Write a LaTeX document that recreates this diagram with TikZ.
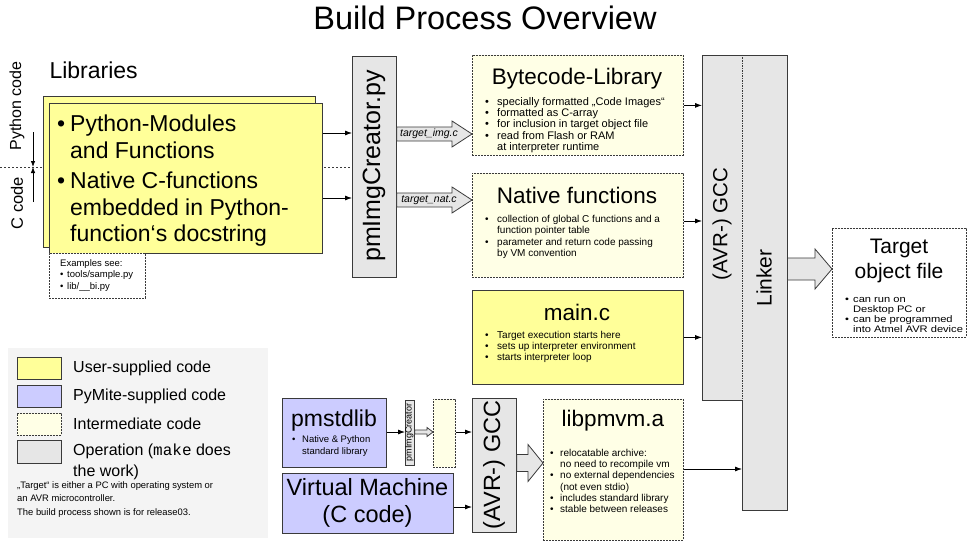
\documentclass[tikz,border=0pt]{standalone}
\usepackage{fontspec}
\setmainfont{Liberation Sans}
\setmonofont{Liberation Mono}
\newfontfamily\widesans[FakeStretch=1.17]{Liberation Sans}
\usetikzlibrary{arrows.meta,calc}
\definecolor{uyellow}{HTML}{FFFF99}
\definecolor{pblue}{HTML}{CCCCFF}
\definecolor{iyellow}{HTML}{FFFFE6}
\definecolor{opgray}{HTML}{E6E6E6}
\definecolor{legbg}{HTML}{F4F4F4}
\definecolor{edge}{HTML}{3A3A3A}
\newcommand\fs[2]{\fontsize{#1}{#2}\selectfont}
\newcommand\bu[1][12pt]{\makebox[#1][l]{•}}
\newcommand\ind[1][12pt]{\hspace*{#1}}
\newcommand\bx[6]{\node[#1, minimum width={(#5-#3)*1pt}, minimum height={(#6-#4)*1pt}] (#2) at (#3,#4) {};}
\newcommand\harrow[6]{%
  \pgfmathsetmacro\hya{#3-#4}\pgfmathsetmacro\hyb{#3+#4}%
  \pgfmathsetmacro\hyc{#3-#5}\pgfmathsetmacro\hyd{#3+#5}%
  \draw[hollow] (#1.east |- 0,\hya) -- ($(#2.west |- 0,\hya)+(-#6,0)$)
    -- ($(#2.west |- 0,\hyc)+(-#6,0)$) -- (#2.west |- 0,#3)
    -- ($(#2.west |- 0,\hyd)+(-#6,0)$) -- ($(#2.west |- 0,\hyb)+(-#6,0)$)
    -- (#1.east |- 0,\hyb) -- cycle;}
\begin{document}
\begin{tikzpicture}[x=1pt,y=-1pt,
  box/.style={draw=edge, line width=0.8pt, rectangle, inner sep=0pt, anchor=north west},
  user/.style={box, fill=uyellow},
  pym/.style={box, fill=pblue},
  inter/.style={box, fill=iyellow, dash pattern=on 2pt off 1pt},
  interw/.style={box, fill=white, dash pattern=on 2pt off 1pt},
  oper/.style={box, fill=opgray},
  opfill/.style={fill=opgray, rectangle, inner sep=0pt, anchor=north west},
  txt/.style={inner sep=0pt, align=left, anchor=west},
  arr/.style={-{Latex[length=7pt,width=5pt]}, line width=0.8pt, draw=black},
  sarr/.style={-{Latex[length=6pt,width=4.5pt]}, line width=0.8pt, draw=black},
  hollow/.style={draw=edge, fill=opgray, line width=0.8pt},
  sepline/.style={draw=edge, line width=0.8pt, dash pattern=on 2pt off 2pt},
]
\useasboundingbox (0,0) rectangle (968,543);

% title
\node[font=\fs{32.5}{36}] (title) at (485,18) {Build Process Overview};

% pmImgCreator (top)
\bx{oper}{pmc}{352}{56}{396}{277}
\node[rotate=90, font=\fs{25}{28}] (pmct) at (374,166) {pmImgCreator.py};

% python / C separator
\coordinate (dl) at (0,167);
\draw[sepline] (dl) -- (dl -| pmc.west);
\coordinate (sepm) at (33,167);
\coordinate (pyt) at (33,132);
\coordinate (cct) at (33,202);
\draw[sarr] (pyt) -- (sepm);
\draw[sarr] (cct) -- (sepm);
\node[rotate=90, font=\fs{16}{18}] (pyc) at (17,106) {Python code};
\node[rotate=90, font=\fs{16.5}{18}] (ccode) at (17,203) {C code};

% Libraries
\node[anchor=west, font=\fs{23}{26}] (libt) at (46,70) {Libraries};
\bx{user}{libback}{43}{96}{315}{247}
\bx{user}{lib}{49}{103}{322}{253}
\node[txt, anchor=north west, font=\fs{23}{26.5}] (libpy) at (57,115)
  {\bu[13pt]Python-Modules\\\ind[13pt]and Functions};
\node[txt, anchor=north west, font=\fs{23}{26.5}] (libc) at (57,172)
  {\bu[13pt]Native C-functions\\\ind[13pt]embedded in Python-\\\ind[13pt]function‘s docstring};
\bx{interw}{ex}{49}{253}{145}{298}
\node[txt, anchor=north west, font=\fs{9.5}{11.5}] (ext) at (60,259)
  {Examples see:\\\bu[7pt]tools/sample.py\\\bu[7pt]lib/\_\_bi.py};

\draw[arr] (lib.east |- 0,133) -- (pmc.west |- 0,133);
\draw[arr] (lib.east |- 0,198) -- (pmc.west |- 0,198);

% intermediate boxes
\bx{inter}{byte}{472}{55}{683}{155}
\node[font=\fs{22.5}{26}] (bytet) at (577,79) {Bytecode-Library};
\node[txt, font=\fs{11}{11.4}] (byteb) at (485,125)
  {\bu specially formatted „Code Images“\\\bu formatted as C-array\\\bu for inclusion in target object file\\\bu read from Flash or RAM\\\ind at interpreter runtime};

\bx{inter}{nat}{472}{173}{683}{277}
\node[font=\fs{22.5}{26}] (natt) at (577,195) {Native functions};
\node[txt, font=\fs{10}{11.3}] (natb) at (485,237)
  {\bu collection of global C functions and a\\\ind function pointer table\\\bu parameter and return code passing\\\ind by VM convention};

\bx{user}{mainc}{472}{290}{683}{384}
\node[font=\fs{22.5}{26}] (maint) at (577,312) {main.c};
\node[txt, font=\fs{10}{11.3}] (mainb) at (485,347)
  {\bu Target execution starts here\\\bu sets up interpreter environment\\\bu starts interpreter loop};

\harrow{pmc}{byte}{134}{7}{13}{20}
\harrow{pmc}{nat}{200}{7}{13}{20}
\node[font=\itshape\fs{10.5}{12}] (imgl) at (429,134) {target\_img.c};
\node[font=\itshape\fs{10.5}{12}] (natl) at (429,200) {target\_nat.c};

% GCC / Linker
\bx{opfill}{gcc}{702}{55}{742}{400}
\bx{opfill}{linker}{742}{55}{787}{510}
\draw[draw=edge, line width=0.8pt] (gcc.north west) -- (linker.north east) -- (linker.south east)
  -- (linker.south west) -- (linker.west |- gcc.south) -- (gcc.south west) -- cycle;
\draw[draw=edge, line width=0.8pt, dash pattern=on 1.5pt off 1pt] (gcc.north east) -- (gcc.south east);
\node[rotate=90, font=\fs{20.5}{24}] (gcct) at (722,224) {(AVR-) GCC};
\node[rotate=90, font=\fs{21}{24}] (linkt) at (764,278) {Linker};

\draw[arr] (byte.east) -- (byte.east -| gcc.west);
\draw[arr] (nat.east |- 0,221) -- (gcc.west |- 0,221);
\draw[arr] (mainc.east) -- (mainc.east -| gcc.west);

% target
\bx{interw}{target}{832}{228}{966}{337}
\node[align=center, font=\fs{21}{25}] (targett) at (899,261) {Target\\object file};
\node[txt, font=\widesans\fs{9.5}{10.2}] (targetb) at (845,315)
  {\bu[8pt]can run on\\\ind[8pt]Desktop PC or\\\bu[8pt]can be programmed\\\ind[8pt]into Atmel AVR device};
\harrow{linker}{target}{269}{11}{20}{17}

% legend
\node[fill=legbg, rectangle, inner sep=0pt, anchor=north west, minimum width=260pt, minimum height=190pt] (leg) at (8,348) {};
\bx{user}{lgu}{17}{357}{61}{379}
\bx{pym}{lgp}{17}{385}{61}{407}
\bx{inter}{lgi}{17}{413}{61}{435}
\bx{oper}{lgo}{17}{440}{61}{463}
\node[txt, font=\fs{16}{19}] (lgut) at (73,368) {User-supplied code};
\node[txt, font=\fs{16}{19}] (lgpt) at (73,396) {PyMite-supplied code};
\node[txt, font=\fs{16}{19}] (lgit) at (73,424) {Intermediate code};
\node[txt, font=\fs{16}{21}] (lgot) at (73,462) {Operation ({\ttfamily make} does\\the work)};
\node[txt, anchor=north west, font=\fs{9.4}{13.5}] (foot) at (17,481)
  {„Target“ is either a PC with operating system or\\an AVR microcontroller.\\The build process shown is for release03.};

% bottom row
\bx{pym}{pmstd}{282}{398}{386}{467}
\node[font=\fs{23}{26}] (pmstdt) at (334,421) {pmstdlib};
\node[txt, font=\fs{9.5}{11.5}] (pmstdb) at (292,446) {\bu[10pt]Native \& Python\\\ind[10pt]standard library};
\bx{pym}{vm}{282}{473}{453}{533}
\node[align=center, font=\fs{23.5}{27}] (vmt) at (367.5,503) {Virtual Machine\\(C code)};

\bx{oper}{spm}{405}{400}{414}{465}
\node[rotate=90, font=\fs{9}{10}] (spmt) at (409.5,432.5) {pmImgCreator};
\bx{inter}{sdash}{433}{399}{455}{467}
\harrow{spm}{sdash}{432}{2}{4.5}{6}

\bx{oper}{gcc2}{472}{398}{516}{532}
\node[rotate=90, font=\fs{23.5}{26}] (gcc2t) at (494,465) {(AVR-) GCC};

\draw[arr] (pmstd.east |- 0,432) -- (spm.west |- 0,432);
\draw[arr] (sdash.east |- 0,432) -- (gcc2.west |- 0,432);
\draw[arr] (vm.east |- 0,507) -- (gcc2.west |- 0,507);

\bx{inter}{libvm}{543}{399}{683}{540}
\node[font=\fs{22.5}{26}] (libvmt) at (613,421) {libpmvm.a};
\node[txt, font=\fs{10}{11.2}] (libvmb) at (550,481)
  {\bu[10pt]relocatable archive:\\\ind[10pt]no need to recompile vm\\\bu[10pt]no external dependencies\\\ind[10pt](not even stdio)\\\bu[10pt]includes standard library\\\bu[10pt]stable between releases};
\harrow{gcc2}{libvm}{463}{8.5}{18.5}{15}
\draw[arr] (libvm.east |- 0,469) -- (linker.west |- 0,469);
\end{tikzpicture}
\end{document}
